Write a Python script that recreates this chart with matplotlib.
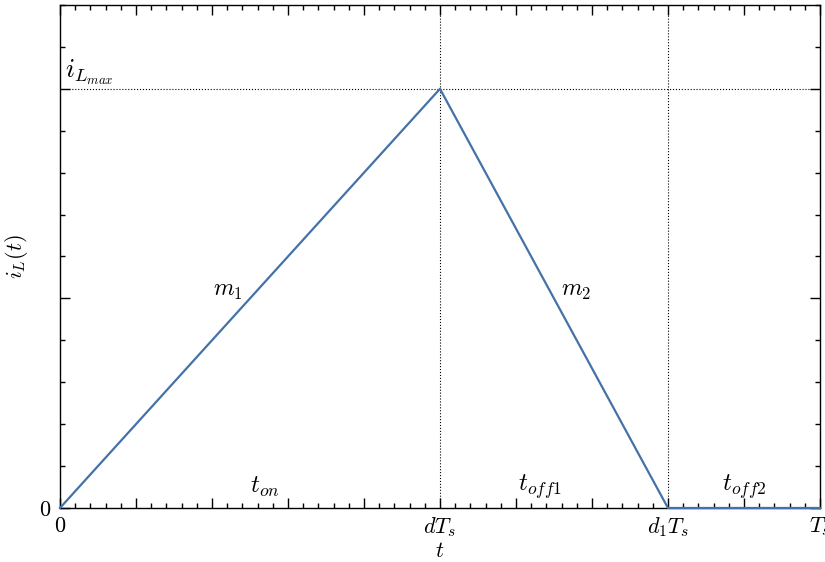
import matplotlib
matplotlib.use("Agg")
import matplotlib.pyplot as plt
from matplotlib.ticker import MultipleLocator, FuncFormatter

plt.rcParams['mathtext.fontset'] = 'cm'
plt.rcParams['font.family'] = 'serif'
plt.rcParams['font.serif'] = ['DejaVu Serif']

# inductor current over one switching period (DCM), Ts = 1, peak = 1
t_pts = [0.0, 0.5, 0.8, 1.0]
i_pts = [0.0, 1.0, 0.0, 0.0]

d = 0.5
d1 = 0.8
i_max = 1.0

xtick_vals = [0.0, 0.5, 0.8, 1.0]
xtick_text = ['$0$', '$dT_s$', '$d_1T_s$', '$T_s$']

fig = plt.figure(figsize=(8.25, 5.62), dpi=100)
ax = fig.add_axes([0.0727, 0.0961, 0.9212, 0.895])

ax.plot(t_pts, i_pts, color='#4472a8', lw=1.6, clip_on=False, zorder=3)

ax.axvline(d, color='k', ls=':', lw=0.8)
ax.axvline(d1, color='k', ls=':', lw=0.8)
ax.axhline(i_max, color='k', ls=':', lw=0.8)

ax.set_xlim(0, 1)
ax.set_ylim(0, 1.2)

ax.xaxis.set_major_locator(MultipleLocator(0.1))
ax.xaxis.set_minor_locator(MultipleLocator(0.02))
ax.yaxis.set_major_locator(MultipleLocator(0.5))
ax.yaxis.set_minor_locator(MultipleLocator(0.1))

def xfmt(v, pos):
    for tv, tl in zip(xtick_vals, xtick_text):
        if abs(v - tv) < 1e-6:
            return tl
    return ''

def yfmt(v, pos):
    return '$0$' if abs(v) < 1e-6 else ''

ax.xaxis.set_major_formatter(FuncFormatter(xfmt))
ax.yaxis.set_major_formatter(FuncFormatter(yfmt))

ax.tick_params(which='both', direction='in', top=True, right=True, labelsize=16)
ax.tick_params(which='major', length=7, width=1)
ax.tick_params(which='minor', length=3.5, width=1)
ax.tick_params(axis='x', pad=5)
ax.tick_params(axis='y', pad=6)
for s in ax.spines.values():
    s.set_linewidth(1)

ax.set_xlabel('$t$', fontsize=16, labelpad=1)
ax.set_ylabel('$i_L(t)$', fontsize=16, labelpad=7)

ax.text(0.221, 0.52, '$m_1$', fontsize=17, ha='center', va='center')
ax.text(0.679, 0.52, '$m_2$', fontsize=17, ha='center', va='center')
ax.text(0.27, 0.05, '$t_{on}$', fontsize=18, ha='center', va='center')
ax.text(0.632, 0.05, '$t_{off1}$', fontsize=18, ha='center', va='center')
ax.text(0.90, 0.05, '$t_{off2}$', fontsize=18, ha='center', va='center')
ax.text(0.006, 1.04, '$i_{L_{max}}$', fontsize=19, ha='left', va='center')

fig.savefig('out.png', dpi=100)
